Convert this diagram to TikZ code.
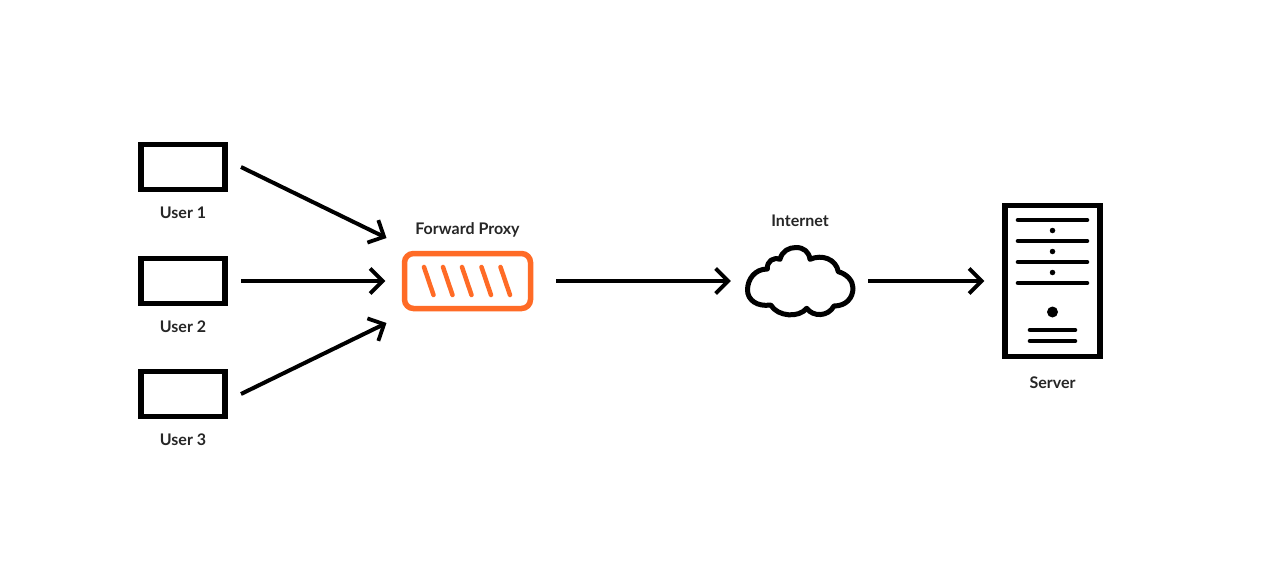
\documentclass[tikz,border=0pt]{standalone}
\usepackage{fontspec}
\setmainfont{Lato}
\usetikzlibrary{arrows.meta}
\definecolor{proxyorange}{HTML}{FF6B26}
\tikzset{
  x=1pt,y=-1pt,
  userbox/.style={draw=black,line width=5.5pt,minimum width=84pt,minimum height=45pt,inner sep=0pt,outer xsep=16pt},
  label text/.style={font=\bfseries\fontsize{16}{18}\selectfont,text=black!85,inner sep=0pt},
  link/.style={line width=4pt,-{Straight Barb[length=12.5pt,width=25pt,line width=3.8pt]}},
  slash/.style={draw=proxyorange,line width=4.5pt,line cap=round},
  rack/.style={line width=4.6pt,line cap=round},
  rackdot/.style={fill=black,draw=none,circle},
}
\begin{document}
\begin{tikzpicture}
\useasboundingbox (0,0) rectangle (1261,562);
\fill[white] (0,0) rectangle (1261,562);
% users
\node[userbox] (u1) at (183,167) {};
\node[userbox] (u2) at (183,281) {};
\node[userbox] (u3) at (183,394) {};
\node[label text] (l1) at (183,213) {User 1};
\node[label text] (l2) at (183,327) {User 2};
\node[label text] (l3) at (183,440) {User 3};
% proxy
\node[draw=proxyorange,line width=5.5pt,rounded corners=9pt,minimum width=126pt,minimum height=55pt,inner sep=0pt] (proxy) at (467.5,281) {};
\node[label text] (lp) at (467.5,230) {Forward Proxy};
\draw[slash] (424,267) -- (433.5,295);
\draw[slash] (443,267) -- (452.5,295);
\draw[slash] (462,267) -- (471.5,295);
\draw[slash] (481.5,267) -- (491,295);
\draw[slash] (500.5,267) -- (510,295);
\coordinate (in1) at (386.5,238);
\coordinate (in3) at (386.5,323);
% cloud
\node[minimum width=108pt,minimum height=68pt,inner sep=0pt] (cloud) at (800,281) {};
\node[label text] (lc) at (800,221) {Internet};
\draw[line width=5pt,line join=round]
  (770.7,305)
  .. controls (757,307) and (747.5,300) .. (747.5,290)
  .. controls (747.5,279) and (755,269) .. (767.3,269)
  .. controls (767,261) and (773,257) .. (780,259.3)
  .. controls (782,251) and (789,247.5) .. (796,247.5)
  .. controls (804,247.5) and (809,252) .. (810,259.3)
  .. controls (822,254) and (836,259) .. (838.3,271.7)
  .. controls (847,274) and (853,281) .. (853,288)
  .. controls (853,298) and (846,306) .. (834,306)
  .. controls (828,317) and (813,317) .. (806.7,308.3)
  .. controls (799,318) and (778,317) .. (770.7,305) -- cycle;
% server
\node[draw=black,line width=5.5pt,minimum width=95pt,minimum height=151pt,inner sep=0pt] (server) at (1052.5,281) {};
\node[label text] (ls) at (1052.5,383) {Server};
\foreach \y in {220,241,262,283} \draw[rack] (1018,\y) -- (1087,\y);
\foreach \y in {230.5,251.5,272.5} \node[rackdot,minimum size=5.5pt,inner sep=0pt] at (1052.5,\y) {};
\node[rackdot,minimum size=11pt,inner sep=0pt] at (1052.5,312) {};
\foreach \y in {330,341} \draw[rack] (1030,\y) -- (1075,\y);
% connectors
\draw[link] (u1.east) -- (in1);
\draw[link,shorten >=16.5pt] (u2.east) -- (proxy.west);
\draw[link] (u3.east) -- (in3);
\draw[link,shorten <=23pt,shorten >=15pt] (proxy.east) -- (cloud.west);
\draw[link,shorten <=14pt,shorten >=18pt] (cloud.east) -- (server.west);
\end{tikzpicture}
\end{document}
